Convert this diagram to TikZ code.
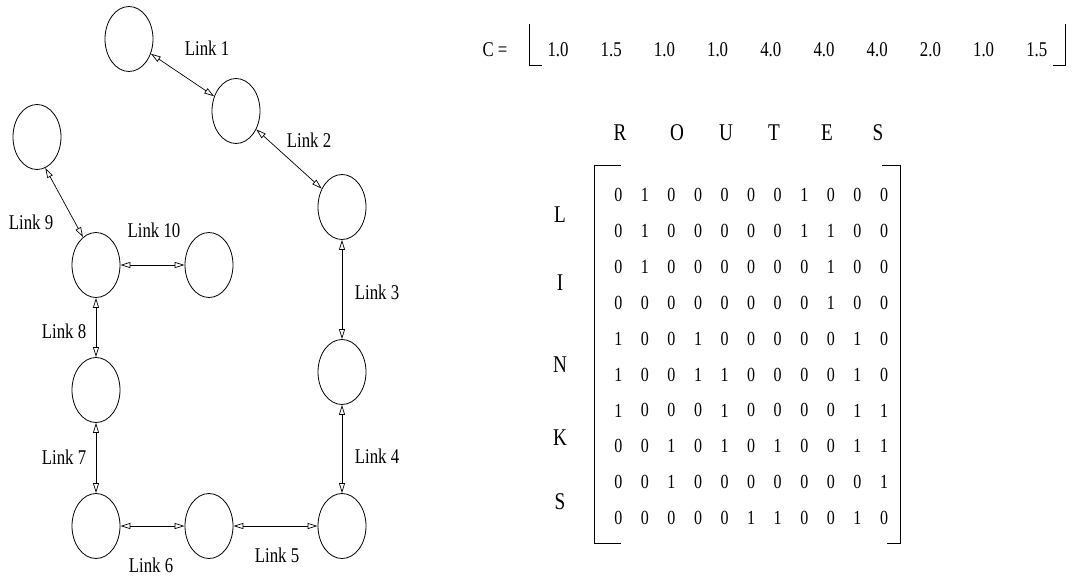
\documentclass[tikz,border=0pt]{standalone}
\usepackage{fontspec}
\setmainfont{Liberation Serif}[FakeStretch=0.8]
\usetikzlibrary{shapes.geometric,arrows.meta}
\tikzset{
  station/.style={draw,ellipse,minimum width=48pt,minimum height=65pt,inner sep=0pt,line width=0.8pt},
  link/.style={line width=0.7pt,{Triangle[open,length=10pt,width=6pt]}-{Triangle[open,length=10pt,width=6pt]}},
  lbl/.style={font=\fontsize{21}{24}\selectfont,inner sep=0pt},
  cval/.style={font=\fontsize{21}{24}\selectfont,inner sep=0pt},
  big/.style={font=\fontsize{24}{28}\selectfont,inner sep=0pt},
  ent/.style={font=\fontsize{20}{24}\selectfont,inner sep=0pt},
  brk/.style={line width=0.8pt}
}
\begin{document}
\begin{tikzpicture}[x=1pt,y=-1pt]
\useasboundingbox (0,0) rectangle (1073,576);
% stations
\node[station] (n1) at (129,39) {};
\node[station] (n2) at (236,111) {};
\node[station] (n3) at (342,207) {};
\node[station] (n4) at (342,372) {};
\node[station] (n5) at (342,526) {};
\node[station] (n6) at (209,526) {};
\node[station] (n7) at (96,526) {};
\node[station] (n8) at (96,390) {};
\node[station] (nL) at (96,265) {};
\node[station] (nR) at (209,265) {};
\node[station] (n9) at (37,137) {};
% links
\draw[link] (n1) -- (n2);
\draw[link] (n2) -- (n3);
\draw[link] (n3) -- (n4);
\draw[link] (n4) -- (n5);
\draw[link] (n5) -- (n6);
\draw[link] (n6) -- (n7);
\draw[link] (n7) -- (n8);
\draw[link] (n8) -- (nL);
\draw[link] (nL) -- (nR);
\draw[link] (n9.-75) -- (nL.115);
% link labels
\node[lbl] (l1) at (207,48) {Link 1};
\node[lbl] (l2) at (309,140) {Link 2};
\node[lbl] (l3) at (377,292) {Link 3};
\node[lbl] (l4) at (377,456) {Link 4};
\node[lbl] (l5) at (277,555) {Link 5};
\node[lbl] (l6) at (151,565) {Link 6};
\node[lbl] (l7) at (64,457) {Link 7};
\node[lbl] (l8) at (64,331) {Link 8};
\node[lbl] (l9) at (31,222) {Link 9};
\node[lbl] (l10) at (154,230) {Link 10};
% C vector
\node[cval] (ceq) at (495,50) {C =};
\draw[brk] (529,24) -- (529,65) -- (542,65);
\draw[brk] (1065,24) -- (1065,65) -- (1053,65);
\foreach \v [count=\i from 0] in {1.0,1.5,1.0,1.0,4.0,4.0,4.0,2.0,1.0,1.5}
  \node[cval] (c\i) at (558+53.2*\i,50) {\v};
% ROUTES
\foreach \ch/\x [count=\i] in {R/620,O/677,U/726,T/774,E/827,S/878}
  \node[big] (r\i) at (\x,133) {\ch};
% LINKS
\foreach \ch/\y [count=\i] in {L/215,I/283,N/365,K/438,S/502}
  \node[big] (k\i) at (560,\y) {\ch};
% matrix brackets
\draw[brk] (621,165) -- (594,165) -- (594,543) -- (621,543);
\draw[brk] (882,165) -- (900,165) -- (900,543) -- (887,543);
% matrix entries
\foreach \row [count=\i from 0] in {
  {0,1,0,0,0,0,0,1,0,0,0},
  {0,1,0,0,0,0,0,1,1,0,0},
  {0,1,0,0,0,0,0,0,1,0,0},
  {0,0,0,0,0,0,0,0,1,0,0},
  {1,0,0,1,0,0,0,0,0,1,0},
  {1,0,0,1,1,0,0,0,0,1,0},
  {1,0,0,0,1,0,0,0,0,1,1},
  {0,0,1,0,1,0,1,0,0,1,1},
  {0,0,1,0,0,0,0,0,0,0,1},
  {0,0,0,0,0,1,1,0,0,1,0}}
  \foreach \e [count=\j from 0] in \row
    \node[ent] (m-\i-\j) at (618.3+26.57*\j,195+35.9*\i) {\e};
\end{tikzpicture}
\end{document}
